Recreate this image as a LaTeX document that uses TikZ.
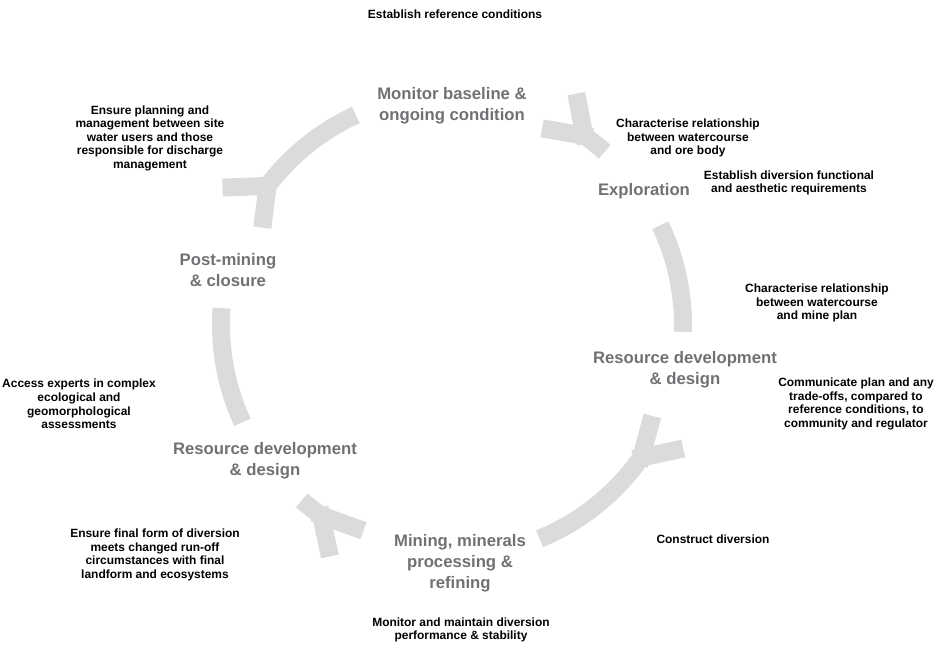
\documentclass[tikz,border=0pt]{standalone}
\usepackage{fontspec}
\setmainfont{Liberation Sans}
\usetikzlibrary{calc}
\definecolor{bandgray}{RGB}{218,219,220}
\definecolor{stagegray}{RGB}{112,113,116}

\begin{document}
\begin{tikzpicture}[x=0.01cm,y=0.01cm,
        band/.style={draw=bandgray,line width=0.18cm},
        stage/.style={text=stagegray,font=\fontsize{4.75}{6}\selectfont\bfseries,align=center,inner sep=0pt},
        note/.style={font=\fontsize{3.4}{3.85}\selectfont\bfseries,align=center,inner sep=0pt}]
            \useasboundingbox (-452,-319) rectangle (486,325);
            \begin{scope}
                \coordinate (jtr) at (55:231);
                \coordinate (jbr) at (-35:231);
                \coordinate (jbl) at (235.5:231);
                \coordinate (jtl) at (143:231);
                \coordinate (rtop) at (25.6:231);
                \coordinate (ltop) at (204.9:231);
                \draw[band] (jtr) arc[start angle=55,end angle=48.6,radius=231];
                \draw[band] ($(jtr)+(101:-8)$)--($(jtr)+(101:43)$);
                \draw[band] ($(jtr)+(170:-8)$)--($(jtr)+(170:43)$);
                \draw[band] (rtop) arc[start angle=25.6,end angle=-1.7,radius=231];
                \draw[band] (jbr) arc[start angle=-35,end angle=-67.7,radius=231];
                \draw[band] ($(jbr)+(12:-8)$)--($(jbr)+(12:43)$);
                \draw[band] ($(jbr)+(75:-8)$)--($(jbr)+(75:43)$);
                \draw[band] (jbl) arc[start angle=235.5,end angle=229.4,radius=231];
                \draw[band] ($(jbl)+(340:-8)$)--($(jbl)+(340:45)$);
                \draw[band] ($(jbl)+(282:-8)$)--($(jbl)+(282:42)$);
                \draw[band] (ltop) arc[start angle=204.9,end angle=175.8,radius=231];
                \draw[band] (jtl) arc[start angle=143,end angle=114.6,radius=231];
                \draw[band] ($(jtl)+(182:-8)$)--($(jtl)+(182:45)$);
                \draw[band] ($(jtl)+(263:-8)$)--($(jtl)+(263:42)$);
            \end{scope}
            \node[stage] (monitor) at (0,219) {Monitor baseline \&\\ongoing condition};
            \node[stage] (explore) at (192,134) {Exploration};
            \node[stage] (designr) at (233,-45) {Resource development\\\& design};
            \node[stage] (mining) at (8,-238) {Mining, minerals\\processing \&\\refining};
            \node[stage] (designl) at (-187,-136) {Resource development\\\& design};
            \node[stage] (closure) at (-224,55) {Post-mining\\\& closure};
            \node[note] (refcond) at (3,311) {Establish reference conditions};
            \node[note] (orebody) at (236,187) {Characterise relationship\\between watercourse\\and ore body};
            \node[note] (aesthetic) at (337,142) {Establish diversion functional\\and aesthetic requirements};
            \node[note] (mineplan) at (365,22) {Characterise relationship\\between watercourse\\and mine plan};
            \node[note] (communicate) at (404,-79) {Communicate plan and any\\trade-offs, compared to\\reference conditions, to\\community and regulator};
            \node[note] (construct) at (261,-214) {Construct diversion};
            \node[note] (maintain) at (9,-305) {Monitor and maintain diversion\\performance \& stability};
            \node[note] (finalform) at (-297,-230) {Ensure final form of diversion\\meets changed run-off\\circumstances with final\\landform and ecosystems};
            \node[note] (experts) at (-373,-79) {Access experts in complex\\ecological and\\geomorphological\\assessments};
            \node[note] (sitewater) at (-302,187) {Ensure planning and\\management between site\\water users and those\\responsible for discharge\\management};
        \end{tikzpicture}
\end{document}
